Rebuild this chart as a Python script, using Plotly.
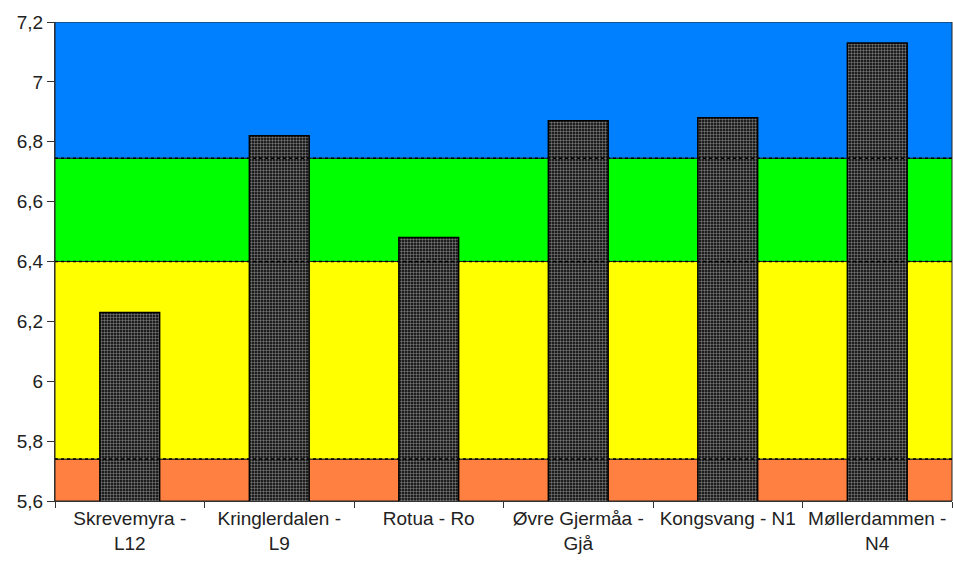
import plotly.graph_objects as go

categories = ["Skrevemyra -<br>L12", "Kringlerdalen -<br>L9", "Rotua - Ro",
              "Øvre Gjermåa -<br>Gjå", "Kongsvang - N1", "Møllerdammen -<br>N4"]
values = [6.23, 6.82, 6.48, 6.87, 6.88, 7.13]
band_edges = [5.6, 5.74, 6.4, 6.745, 7.2]
band_colors = ["#FF8040", "#FFFF00", "#00FF00", "#0080FF"]
y_ticks = [5.6, 5.8, 6.0, 6.2, 6.4, 6.6, 6.8, 7.0, 7.2]

fig = go.Figure()
fig.add_trace(go.Bar(
    x=categories, y=values, width=0.4,
    marker=dict(color="#000000",
                line=dict(color="#000000", width=1.5),
                pattern=dict(shape=".", fgcolor="#e6e6e6", bgcolor="#000000",
                             size=3, solidity=0.5)),
    showlegend=False,
))

shapes = []
for i, c in enumerate(band_colors):
    shapes.append(dict(type="rect", xref="paper", yref="y", x0=0, x1=1,
                       y0=band_edges[i], y1=band_edges[i + 1],
                       fillcolor=c, line=dict(color="#222222", width=1),
                       layer="below"))
for e in band_edges[1:-1]:
    shapes.append(dict(type="line", xref="paper", yref="y", x0=0, x1=1,
                       y0=e, y1=e, line=dict(color="#000000", width=1.5, dash="dot"),
                       layer="above"))

fig.update_layout(
    width=953, height=565,
    margin=dict(l=55, r=1, t=22, b=64),
    paper_bgcolor="white", plot_bgcolor="white",
    separators=", ",
    shapes=shapes,
    font=dict(family="Liberation Sans, Arial, sans-serif", size=19, color="#222222"),
    bargap=0.6,
    xaxis=dict(range=[-0.5, 5.5], showgrid=False, zeroline=False,
               showline=True, linecolor="#333333", linewidth=1,
               ticks="outside", tickson="boundaries", ticklen=6, tickcolor="#333333",
               tickangle=0, automargin=False),
    yaxis=dict(range=[5.6, 7.2], tickvals=y_ticks, showgrid=False, zeroline=False,
               showline=True, linecolor="#333333", linewidth=1,
               ticks="outside", ticklen=7, tickcolor="#333333",
               automargin=False),
)

fig.write_html("out.html", config={"displayModeBar": False},
               post_script="document.body.style.margin='0';document.body.style.overflow='hidden';")
